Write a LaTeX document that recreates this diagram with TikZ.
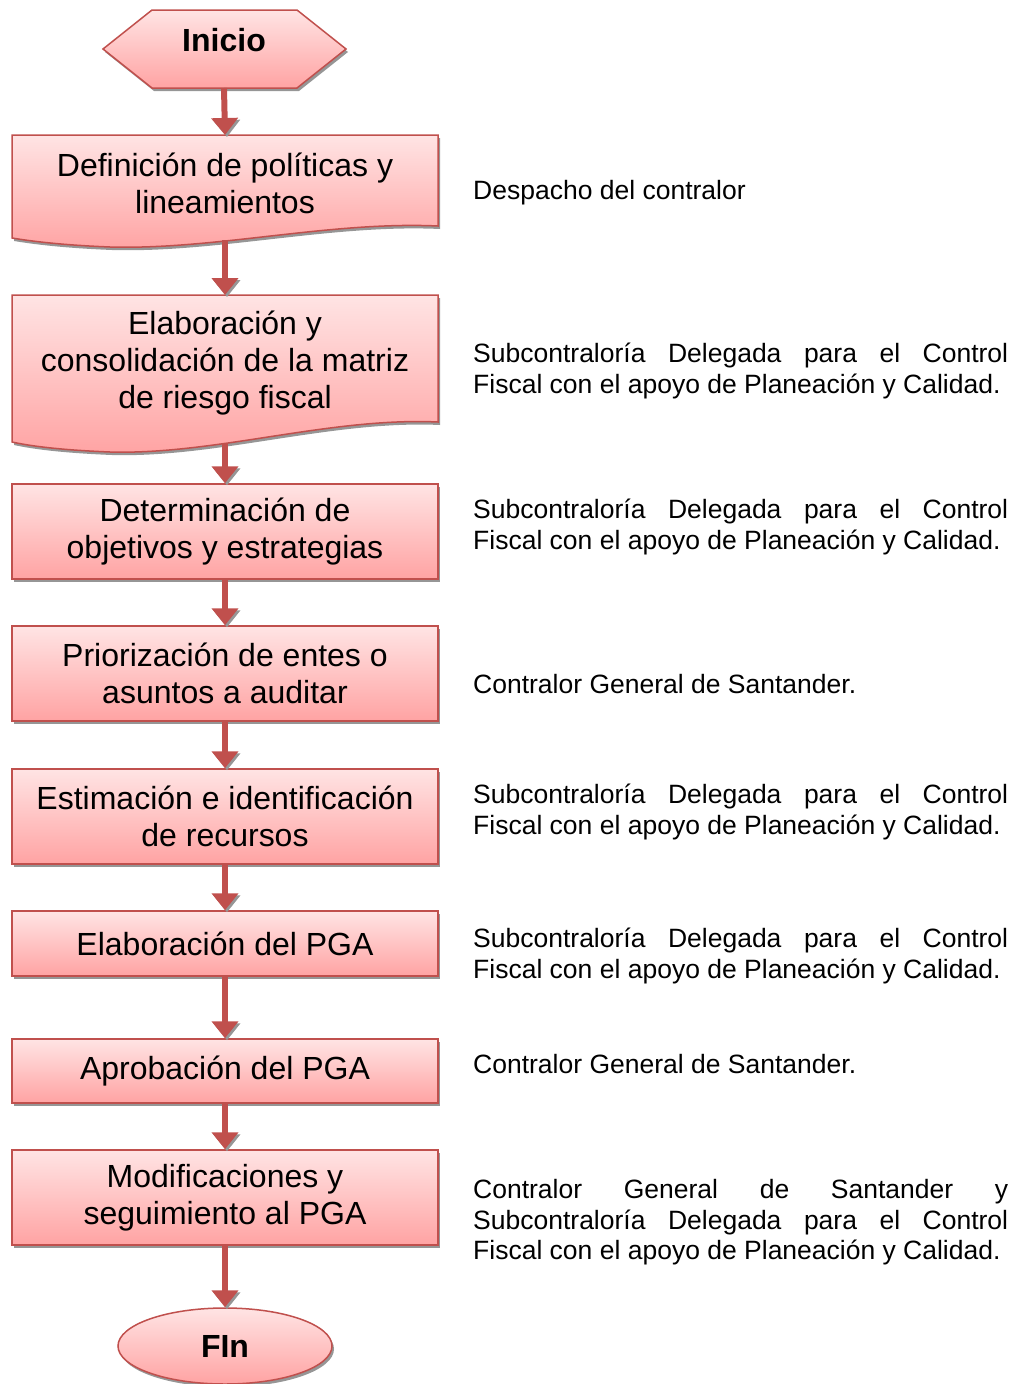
\documentclass[tikz,border=0pt]{standalone}
\usepackage{fontspec}
\setmainfont{Liberation Sans}
\usetikzlibrary{arrows.meta,shadows,shapes.geometric}

\definecolor{borde}{RGB}{192,80,77}
\definecolor{rosaA}{RGB}{255,228,228}
\definecolor{rosaB}{RGB}{255,163,163}
\definecolor{sombra}{RGB}{150,150,150}

\tolerance=10000
\hbadness=10000

\tikzset{
  forma/.style={draw=borde, line width=1.5pt, top color=rosaA, bottom color=rosaB,
    drop shadow={shadow xshift=2pt, shadow yshift=-3pt, fill=sombra, opacity=1}},
  texto/.style={align=center, font=\fontsize{32}{36.8}\selectfont},
  caja/.style={forma, texto, rectangle, minimum width=426pt},
  flecha/.style={draw=borde, line width=6pt, -{Triangle[width=26pt,length=17pt]},
    preaction={draw=sombra, transform canvas={xshift=2pt,yshift=-2pt}}},
  nota/.style={anchor=west, inner sep=0pt, text width=535pt, align=justify,
    font=\fontsize{26.5}{30.5}\selectfont}
}

\begin{document}
\begin{tikzpicture}[x=1pt,y=-1pt]
\useasboundingbox (0,0) rectangle (1013,1384);

% inicio
\path[forma] (103,49) -- (152,10) -- (297,10) -- (346,49) -- (297,88) -- (152,88) -- cycle;
\node[texto] (ini) at (224,40) {\bfseries Inicio};
\coordinate (ini-b) at (224,88);

% cajas con borde ondulado
\path[forma] (12,135) -- (438,135) -- (438,226) .. controls (330,221) and (215,250) .. (110,247)
  .. controls (60,245) and (30,241) .. (12,238) -- cycle;
\node[texto] (def) at (225,183) {Definición de políticas y\\lineamientos};
\coordinate (def-t) at (225,135);
\coordinate (def-b) at (225,240);

\path[forma] (12,295) -- (438,295) -- (438,422) .. controls (330,417) and (215,455) .. (110,452)
  .. controls (60,450) and (30,446) .. (12,442) -- cycle;
\node[texto] (mat) at (225,363) {Elaboración y\\consolidación de la matriz\\de riesgo fiscal};
\coordinate (mat-t) at (225,295);
\coordinate (mat-b) at (225,443);

% cajas
\node[caja, minimum height=95pt] (obj) at (225,531.5) {Determinación de\\objetivos y estrategias};
\node[caja, minimum height=95pt] (pri) at (225,673.5) {Priorización de entes o\\asuntos a auditar};
\node[caja, minimum height=95pt] (est) at (225,816.5) {Estimación e identificación\\de recursos};
\node[caja, minimum height=65pt] (pga) at (225,943.5) {Elaboración del PGA};
\node[caja, minimum height=64pt] (apr) at (225,1071) {Aprobación del PGA};
\node[caja, minimum height=95pt] (mod) at (225,1197.5) {Modificaciones y\\seguimiento al PGA};

% fin
\node[forma, texto, ellipse, minimum width=214pt, minimum height=76pt] (fin) at (225,1346) {\bfseries FIn};

% flechas
\foreach \a/\b in {ini-b/def-t, def-b/mat-t, mat-b/obj, obj/pri, pri/est, est/pga, pga/apr, apr/mod, mod/fin}
  \draw[flecha] (\a) -- (\b);

% responsables
\node[nota] (n1) at (473,193) {Despacho del contralor};
\node[nota] (n2) at (473,371) {Subcontraloría Delegada para el Control\linebreak Fiscal con el apoyo de Planeación y Calidad.};
\node[nota] (n3) at (473,527) {Subcontraloría Delegada para el Control\linebreak Fiscal con el apoyo de Planeación y Calidad.};
\node[nota] (n4) at (473,684) {Contralor General de Santander.};
\node[nota] (n5) at (473,812) {Subcontraloría Delegada para el Control\linebreak Fiscal con el apoyo de Planeación y Calidad.};
\node[nota] (n6) at (473,956) {Subcontraloría Delegada para el Control\linebreak Fiscal con el apoyo de Planeación y Calidad.};
\node[nota] (n7) at (473,1064) {Contralor General de Santander.};
\node[nota] (n8) at (473,1222.5) {Contralor General de Santander y\linebreak Subcontraloría Delegada para el Control\linebreak Fiscal con el apoyo de Planeación y Calidad.};
\end{tikzpicture}
\end{document}
